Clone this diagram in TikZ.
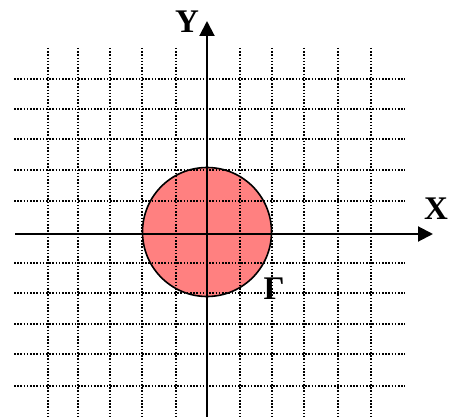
\documentclass[tikz,border=0pt]{standalone}
\usepackage{fontspec}
\setmainfont{Liberation Serif}
\usepackage{tikz}
\usetikzlibrary{arrows.meta}
\definecolor{discred}{HTML}{FF8080}

\begin{document}
\begin{tikzpicture}[x=1pt, y=-1pt,
  gridline/.style={draw=black, line width=1.6pt, dash pattern=on 1.5pt off 1.7pt},
  axisline/.style={draw=black, line width=2pt, -{Triangle[length=15pt, width=15pt]}},
  discshape/.style={draw=black, line width=1.6pt, fill=discred},
  lbl/.style={font=\fontsize{33}{35}\selectfont\bfseries, inner sep=0pt}
]
\useasboundingbox (0,0) rectangle (458,417);

% disc
\node[discshape, circle, minimum size=129pt, inner sep=0pt] (disc) at (207,232) {};

% dotted grid
\foreach \gx in {48,78,110,142,176,240,272,304,338,371}
  \draw[gridline] (\gx,48) -- (\gx,417);
\foreach \gy in {79,109,139,170,201,263,293,324,354,386}
  \draw[gridline] (14,\gy) -- (405,\gy);

% axes
\coordinate (xstart) at (15,234);
\coordinate (xend) at (433,234);
\coordinate (ystart) at (207,417);
\coordinate (yend) at (207,21);
\draw[axisline] (xstart) -- (xend);
\draw[axisline] (ystart) -- (yend);

% labels
\node[lbl] (ylab) at (187,22) {Y};
\node[lbl] (xlab) at (436,209) {X};
\node[lbl] (gamma) at (274,289) {Γ};

\end{tikzpicture}
\end{document}
